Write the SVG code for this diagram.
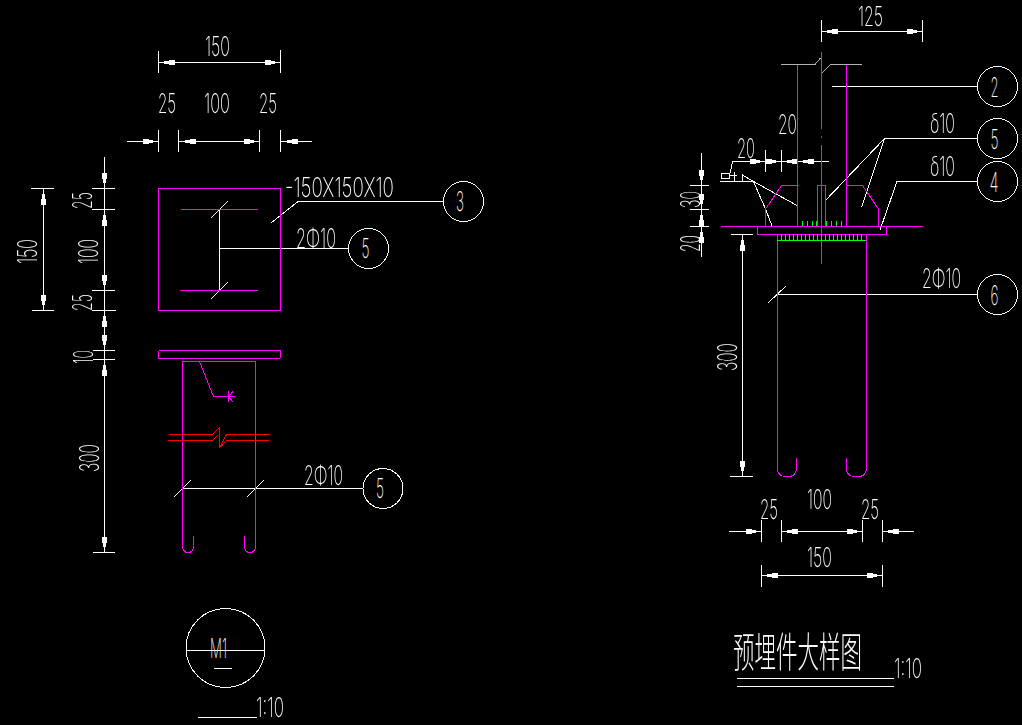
<svg xmlns="http://www.w3.org/2000/svg" xmlns:xlink="http://www.w3.org/1999/xlink" width="1022" height="725" viewBox="0 0 1022 725">
<style>
text{font-family:"Inter","Liberation Sans","Noto Sans CJK SC",sans-serif;font-weight:200;font-size:27px;fill:#fff}
.t{opacity:.99}
.w{fill:none;stroke:#fff;stroke-width:1}
.m{fill:none;stroke:#f0f;stroke-width:1}
.g{fill:none;stroke:#0f0;stroke-width:1}
.r{fill:none;stroke:#f00;stroke-width:1}
.y{fill:none;stroke:#b4b4b4;stroke-width:1}
svg{shape-rendering:crispEdges}
.a{fill:#fff}
</style>
<defs>
<path id="ar" d="M0 0L10 -1.800V-2.500H16V2.500H10V1.800Z"/>
</defs>
<rect width="1022" height="725" fill="#000"/>

<g id="connectors">
<path class="w" d="M158.500 62.500H280.500M158.500 51V73M280.500 50V73"/>
<path class="w" d="M127 141.500H158.500M178.500 141.500H259.500M280.500 141.500H312M158.500 130V152M178.500 130V152M259.500 130V152M280.500 130V152"/>
<path class="w" d="M104.500 157V552.500M92 188.500H115M92 209.500H115M92 290.500H115M92 310.500H116M93 350.500H115M93 359.500H115M93 552.500H115"/>
<path class="w" d="M43.500 188.500V310.500M31 188.500H53.500M32 310.500H53.500"/>
<g class="a">
<use xlink:href="#ar" transform="translate(158.500 62.500)"/><use xlink:href="#ar" transform="translate(280.500 62.500) rotate(180)"/>
<use xlink:href="#ar" transform="translate(158.500 141.500) rotate(180)"/><use xlink:href="#ar" transform="translate(179.500 141.500)"/><use xlink:href="#ar" transform="translate(259.500 141.500) rotate(180)"/><use xlink:href="#ar" transform="translate(281.500 141.500)"/>
<use xlink:href="#ar" transform="translate(43.500 188.500) rotate(90)"/><use xlink:href="#ar" transform="translate(43.500 310.500) rotate(-90)"/>
<use xlink:href="#ar" transform="translate(104.500 188.500) rotate(-90)"/><use xlink:href="#ar" transform="translate(104.500 209.500) rotate(90)"/><use xlink:href="#ar" transform="translate(104.500 290.500) rotate(-90)"/><use xlink:href="#ar" transform="translate(104.500 310.500) rotate(90)"/>
<use xlink:href="#ar" transform="translate(104.500 350.500) rotate(-90)"/><use xlink:href="#ar" transform="translate(104.500 359.500) rotate(90)"/><use xlink:href="#ar" transform="translate(104.500 552.500) rotate(-90)"/>
</g>
<path class="w" d="M271 223L298 201.500H443M219.500 209.500V290.500M219.500 248.500H348.500M211 218L228 201M211 299L228 282"/>
<path class="w" d="M183 488.500H363M174 497L191 480M247 497L264 480"/>
<path class="w" d="M186 650.500H265M214 668.500H232M198 717.500H257"/>
<path class="w" d="M821.500 20V42M922.500 20V42M825 31.500H921"/>
<path class="w" d="M732.500 161.500H828.500M765.500 150V172M781.500 150V172M797.500 150V172"/>
<path class="w" d="M701.500 153V207M701.500 212V257M690 185.500H709M690 209.500H709M690 226.500H709"/>
<path class="w" d="M742.500 234.500V476.500M731 234.500H753M730 476.500H753"/>
<path class="w" d="M729 531.500H761.500M781.500 531.500H862.500M882.500 531.500H914M761.500 520V542M781.500 520V542M862.500 520V542M882.500 520V542"/>
<path class="w" d="M761.500 575.500H882.500M761.500 565V587M882.500 565V587"/>
<path class="w" d="M737 678.500H894M737 686.500H894"/>
<g class="a">
<use xlink:href="#ar" transform="translate(821.500 31.500)"/><use xlink:href="#ar" transform="translate(922.500 31.500) rotate(180)"/>
<use xlink:href="#ar" transform="translate(765.500 161.500) rotate(180)"/><use xlink:href="#ar" transform="translate(781.500 161.500) rotate(180)"/><use xlink:href="#ar" transform="translate(781.500 161.500)"/><use xlink:href="#ar" transform="translate(797.500 161.500)"/>
<use xlink:href="#ar" transform="translate(701.500 185.500) rotate(-90)"/><use xlink:href="#ar" transform="translate(701.500 209.500) rotate(-90)"/><use xlink:href="#ar" transform="translate(701.500 209.500) rotate(90)"/><use xlink:href="#ar" transform="translate(701.500 226.500) rotate(90)"/>
<use xlink:href="#ar" transform="translate(742.500 234.500) rotate(90)"/><use xlink:href="#ar" transform="translate(742.500 476.500) rotate(-90)"/>
<use xlink:href="#ar" transform="translate(761.500 531.500) rotate(180)"/><use xlink:href="#ar" transform="translate(781.500 531.500)"/><use xlink:href="#ar" transform="translate(862.500 531.500) rotate(180)"/><use xlink:href="#ar" transform="translate(882.500 531.500)"/>
<use xlink:href="#ar" transform="translate(761.500 575.500)"/><use xlink:href="#ar" transform="translate(882.500 575.500) rotate(180)"/>
</g>
<path class="w" d="M832 86.500H977"/>
<path class="w" d="M824.500 201.500L884.500 138.500H977M884.500 138.500L861.500 207.500"/>
<path class="w" d="M977 181.500H897L880 230"/>
<path class="w" d="M777 294.500H977M768 303L786 286"/>
<path class="w" d="M732.500 161.500L730 173.500M721.500 173.500H729.500V178.500H721.500ZM729.500 175.500H737M734.500 172V181.500M720 181.500H753.500M742.500 181.500V175L753.500 181.500L797 205.500M753.500 181.500L765.500 209L772 226"/>
</g>

<g id="plan-view">
<rect class="m" x="158.500" y="188.500" width="122" height="122"/>
<path class="m" d="M181 209.500H258M180 290.500H258"/>
</g>

<g id="elevation-view">
<rect class="m" x="158.500" y="350.500" width="122" height="8" rx="1.500"/>
<path class="m" d="M193.500 536V546Q193.500 552.500 188 552.500Q182.500 552.500 182.500 545V361.500H255.500V545Q255.500 552.500 250 552.500Q244.500 552.500 244.500 546V536"/>
<path class="m" d="M199.500 361.500L213.500 396.500H234.500M228.500 391V402M228.500 396.500L233 391.500M228.500 396.500L233 402"/>
<path class="r" d="M169 434.500H212.500L219.500 427.500V447.500L226.500 434.500H269.500"/>
<path class="r" d="M168 440.500H212.500L218 435M220.500 447L226.500 440.500H269"/>
</g>

<g id="section-view">
<path class="y" d="M781 64.500H815L820.500 58M822 73L830.500 64.500H862"/>
<path class="m" d="M797.500 64.500V226.500M846.500 64.500V226.500M821.500 52V129M821.500 136V138M821.500 145V264"/>
<path class="m" d="M721 226.500H923M757.500 226.500V234.500H886.500V226.500"/>
<path class="m" d="M817.500 226.500V185.500H825.500V226.500"/>
<path class="m" d="M765.500 226.500V209L781.500 185.500H797.500M846.500 185.500H862.500L878.500 209V226.500"/>
<path class="m" d="M796.500 458V468Q796.500 476.500 788 476.500H786Q777.500 476.500 777.500 468V234.500M866.500 234.500V468Q866.500 476.500 858 476.500H855Q846.500 476.500 846.500 468V458"/>
<path class="g" d="M777 240.500H866M781.500 234V240M785.500 234V240M789.500 234V240M793.500 234V240M797.500 234V240M801.500 234V240M805.500 234V240M809.500 234V240M813.500 234V240M817.500 234V240M821.500 234V240M825.500 234V240M829.500 234V240M833.500 234V240M837.500 234V240M841.500 234V240M845.500 234V240M849.500 234V240M853.500 234V240M857.500 234V240M861.500 234V240"/>
<path class="g" d="M802.500 221V226M807.500 221V226M812.500 221V226M816.500 221V226M826.500 221V226M831.500 221V226M836.500 221V226M841.500 221V226"/>
</g>

<g id="node-3" class="t"><circle class="w" cx="463.500" cy="201.500" r="20"/><text x="456" y="211" textLength="8" lengthAdjust="spacingAndGlyphs">3</text></g>
<g id="node-5a" class="t"><circle class="w" cx="368.500" cy="248.500" r="20"/><text x="361.500" y="258" textLength="8" lengthAdjust="spacingAndGlyphs">5</text></g>
<g id="node-5b" class="t"><circle class="w" cx="383" cy="488.500" r="20"/><text x="376" y="498" textLength="8" lengthAdjust="spacingAndGlyphs">5</text></g>
<g id="node-2" class="t"><circle class="w" cx="997.500" cy="86.500" r="20"/><text x="990.500" y="96.500" textLength="8" lengthAdjust="spacingAndGlyphs">2</text></g>
<g id="node-5c" class="t"><circle class="w" cx="997.500" cy="138.500" r="20"/><text x="990.500" y="148.500" textLength="8" lengthAdjust="spacingAndGlyphs">5</text></g>
<g id="node-4" class="t"><circle class="w" cx="997.500" cy="181.500" r="20"/><text x="989.500" y="191.500" textLength="9" lengthAdjust="spacingAndGlyphs">4</text></g>
<g id="node-6" class="t"><circle class="w" cx="997.500" cy="294.500" r="20"/><text x="990.500" y="304.500" textLength="8" lengthAdjust="spacingAndGlyphs">6</text></g>
<g id="node-M1" class="t"><circle class="w" cx="225.500" cy="648" r="39.500"/><text x="210" y="658" textLength="17" lengthAdjust="spacingAndGlyphs">M1</text></g>

<g id="labels" class="t">
<text x="205" y="56" textLength="25" lengthAdjust="spacingAndGlyphs">150</text>
<text x="158" y="113" textLength="18" lengthAdjust="spacingAndGlyphs">25</text>
<text x="204" y="113" textLength="26" lengthAdjust="spacingAndGlyphs">100</text>
<text x="259" y="113" textLength="18" lengthAdjust="spacingAndGlyphs">25</text>
<text transform="translate(37 264) rotate(-90)" textLength="25" lengthAdjust="spacingAndGlyphs">150</text>
<text transform="translate(92 209) rotate(-90)" textLength="17" lengthAdjust="spacingAndGlyphs">25</text>
<text transform="translate(98 264) rotate(-90)" textLength="25" lengthAdjust="spacingAndGlyphs">100</text>
<text transform="translate(92 311) rotate(-90)" textLength="17" lengthAdjust="spacingAndGlyphs">25</text>
<text transform="translate(93 364) rotate(-90)" textLength="14" lengthAdjust="spacingAndGlyphs">10</text>
<text transform="translate(99 472) rotate(-90)" textLength="28" lengthAdjust="spacingAndGlyphs">300</text>
<text x="285" y="197" textLength="109" lengthAdjust="spacingAndGlyphs">-150X150X10</text>
<text x="296" y="248" textLength="40" lengthAdjust="spacingAndGlyphs">2Φ10</text>
<text x="304" y="485" textLength="39" lengthAdjust="spacingAndGlyphs">2Φ10</text>
<text x="256" y="717" textLength="28" lengthAdjust="spacingAndGlyphs">1:10</text>
<text x="858" y="26" textLength="25" lengthAdjust="spacingAndGlyphs">125</text>
<text x="778" y="134" textLength="19" lengthAdjust="spacingAndGlyphs">20</text>
<text x="737" y="158" textLength="18" lengthAdjust="spacingAndGlyphs">20</text>
<text x="930" y="133" textLength="25" lengthAdjust="spacingAndGlyphs">δ10</text>
<text x="930" y="176" textLength="25" lengthAdjust="spacingAndGlyphs">δ10</text>
<text x="922" y="288" textLength="39" lengthAdjust="spacingAndGlyphs">2Φ10</text>
<text transform="translate(700 208) rotate(-90)" textLength="17" lengthAdjust="spacingAndGlyphs">30</text>
<text transform="translate(700 252) rotate(-90)" textLength="17" lengthAdjust="spacingAndGlyphs">20</text>
<text transform="translate(737 371) rotate(-90)" textLength="28" lengthAdjust="spacingAndGlyphs">300</text>
<text x="760" y="519" textLength="18" lengthAdjust="spacingAndGlyphs">25</text>
<text x="807" y="509" textLength="25" lengthAdjust="spacingAndGlyphs">100</text>
<text x="861" y="519" textLength="18" lengthAdjust="spacingAndGlyphs">25</text>
<text x="807" y="567" textLength="25" lengthAdjust="spacingAndGlyphs">150</text>
<text transform="translate(733 667) scale(1 1.900)" style="font-family:'Noto Sans CJK SC',sans-serif;font-size:21.500px">预埋件大样图</text>
<text x="894" y="678" textLength="28" lengthAdjust="spacingAndGlyphs">1:10</text>
</g>
</svg>
